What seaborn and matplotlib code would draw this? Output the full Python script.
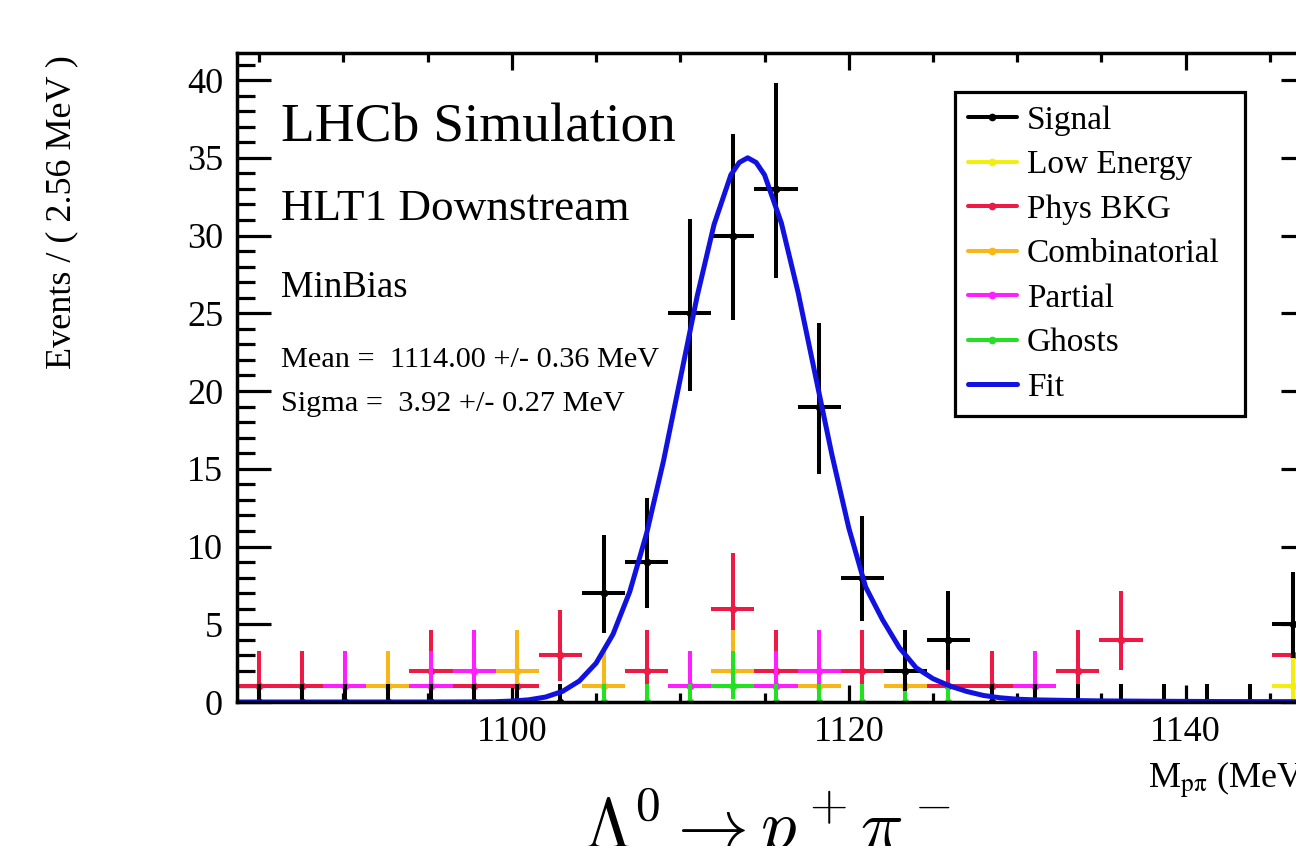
import matplotlib
matplotlib.use("Agg")
from matplotlib import pyplot as plt
from matplotlib.lines import Line2D
from matplotlib.ticker import MultipleLocator
import numpy as np
import pandas as pd
import seaborn as sns

# histogram binning (MeV)
MASS_LO = 1083.68
MASS_HI = 1147.68
BIN_WIDTH = 2.56
N_BINS = 25

# events per bin
signal = [0, 0, 0, 0, 0, 0, 0, 0, 7, 9, 25, 30, 33, 19, 8, 2, 4, 0, 0, 0, 0, 0, 0, 0, 5]
low_energy = [0, 0, 0, 0, 0, 0, 0, 0, 0, 0, 0, 0, 0, 0, 0, 0, 0, 0, 0, 0, 0, 0, 0, 0, 1]
phys_bkg = [1, 1, 0, 0, 2, 1, 1, 3, 0, 2, 0, 6, 2, 0, 2, 0, 1, 1, 0, 2, 4, 0, 0, 0, 3]
combinatorial = [0, 0, 0, 1, 0, 0, 2, 0, 1, 0, 0, 2, 0, 1, 0, 1, 0, 0, 0, 0, 0, 0, 0, 0, 0]
partial = [0, 0, 1, 0, 1, 2, 0, 0, 0, 0, 1, 0, 1, 2, 0, 0, 0, 0, 1, 0, 0, 0, 0, 0, 0]
ghosts = [0, 0, 0, 0, 0, 0, 0, 0, 0, 0, 0, 1, 0, 0, 0, 0, 0, 0, 0, 0, 0, 0, 0, 0, 0]

# empty bins whose error bar is still visible
signal_zero_bins = [0, 1, 2, 3, 4, 5, 6, 7, 17, 18, 19, 20, 21, 22, 23]
ghosts_zero_bins = [8, 9, 10, 12, 13, 14, 15, 16]

# asymmetric (Poisson) error bars per count
err_n = [0, 1, 2, 3, 4, 5, 6, 7, 8, 9, 19, 25, 30, 33]
err_lo = [0.0, 0.83, 1.29, 1.63, 1.91, 2.16, 2.38, 2.58, 2.77, 2.94, 4.33, 4.97, 5.45, 5.73]
err_hi = [1.15, 2.30, 2.64, 2.92, 3.16, 3.38, 3.58, 3.77, 3.95, 4.11, 5.40, 6.06, 6.55, 6.83]

# fitted curve
fit_x = [1083.68, 1090, 1095, 1098, 1099, 1100, 1101, 1102, 1103, 1104, 1105, 1106, 1107,
         1108, 1109, 1110, 1111, 1112, 1113, 1113.5, 1114, 1114.5, 1115, 1116, 1117, 1118,
         1119, 1120, 1121, 1122, 1123, 1124, 1125, 1126, 1127, 1128, 1129, 1130, 1131,
         1133, 1135, 1138, 1142, 1147.68]
fit_y = [0.0, 0.0, 0.0, 0.01, 0.02, 0.06, 0.14, 0.32, 0.68, 1.35, 2.5, 4.35, 7.1,
         10.85, 15.5, 20.8, 26.1, 30.7, 33.9, 34.7, 35.0, 34.7, 33.9, 30.8, 26.3, 21.1,
         15.9, 11.2, 7.4, 5.3, 3.5, 2.2, 1.5, 1.03, 0.68, 0.42, 0.27, 0.18, 0.14,
         0.1, 0.07, 0.05, 0.03, 0.02]

labels = ["Signal", "Low Energy", "Phys BKG", "Combinatorial", "Partial", "Ghosts", "Fit"]
colors = ["black", "#F2EE10", "#EC1A45", "#F7B718", "#FF1EFF", "#22E022", "#1212E0"]

bin_centers = MASS_LO + BIN_WIDTH * (np.arange(N_BINS) + 0.5)
lo_map = dict(zip(err_n, err_lo))
hi_map = dict(zip(err_n, err_hi))

LW = 2.9
FIT_LW = 3.6


def draw_series(ax, counts, color, z, zero_bins=()):
    counts = np.asarray(counts)
    idx = np.nonzero(counts)[0]
    lo = [lo_map[c] for c in counts[idx]]
    hi = [hi_map[c] for c in counts[idx]]
    ax.errorbar(bin_centers[idx], counts[idx], xerr=BIN_WIDTH / 2, yerr=[lo, hi],
                fmt="o", ms=4.5, color=color, elinewidth=LW, capsize=0, zorder=z)
    if len(zero_bins):
        zb = np.asarray(zero_bins)
        ax.errorbar(bin_centers[zb], np.zeros(len(zb)),
                    yerr=[np.zeros(len(zb)), np.full(len(zb), hi_map[0])],
                    fmt="o", ms=4.5, color=color, elinewidth=LW, capsize=0, zorder=z)


sns.set_theme(style="ticks")
plt.rcParams["font.family"] = ["Liberation Serif", "DejaVu Serif"]
plt.rcParams["text.color"] = "black"
plt.rcParams["axes.labelcolor"] = "black"
plt.rcParams["xtick.color"] = "black"
plt.rcParams["ytick.color"] = "black"

fig = plt.figure(figsize=(12.96, 8.46), dpi=100)
ax = fig.add_axes([237 / 1296, 144 / 846, 1078 / 1296, 649 / 846])

draw_series(ax, phys_bkg, colors[2], 3)
draw_series(ax, low_energy, colors[1], 3.5)
draw_series(ax, combinatorial, colors[3], 4)
draw_series(ax, partial, colors[4], 4.5)
draw_series(ax, ghosts, colors[5], 5, ghosts_zero_bins)
draw_series(ax, signal, colors[0], 6, signal_zero_bins)

fit_df = pd.DataFrame({"mass": fit_x, "events": fit_y})
sns.lineplot(data=fit_df, x="mass", y="events", ax=ax, color=colors[6], lw=FIT_LW,
             estimator=None, sort=True, zorder=7)

ax.set_xlim(MASS_LO, MASS_HI)
ax.set_ylim(0, 41.74)
ax.xaxis.set_major_locator(MultipleLocator(20))
ax.xaxis.set_minor_locator(MultipleLocator(5))
ax.yaxis.set_major_locator(MultipleLocator(5))
ax.yaxis.set_minor_locator(MultipleLocator(1))
ax.tick_params(axis="both", which="both", direction="in", top=True, right=True,
               width=2.3, colors="black", labelsize=26, pad=10)
ax.tick_params(axis="x", which="major", length=12.5)
ax.tick_params(axis="x", which="minor", length=6.5)
ax.tick_params(axis="y", which="major", length=24.5)
ax.tick_params(axis="y", which="minor", length=13)
for sp in ax.spines.values():
    sp.set_linewidth(2.5)
    sp.set_color("black")
    sp.set_zorder(10)

ax.set_xlabel(r"M$_{\mathrm{p\pi}}$ (MeV)", loc="right", fontsize=26, labelpad=8,
              math_fontfamily="stix")
ax.set_ylabel("")
fig.text(62 / 1296, 1 - 55 / 846, "Events / ( 2.56 MeV )", rotation=90, ha="center",
         va="top", fontsize=26)

# labels inside the frame
fig.text(281 / 1296, 1 - 142 / 846, "LHCb Simulation", fontsize=39.8, va="baseline")
fig.text(281 / 1296, 1 - 220 / 846, "HLT1 Downstream", fontsize=32.5, va="baseline")
fig.text(281 / 1296, 1 - 297 / 846, "MinBias", fontsize=26.5, va="baseline")
fig.text(281 / 1296, 1 - 367 / 846, "Mean =  1114.00 +/- 0.36 MeV", fontsize=21.8, va="baseline")
fig.text(281 / 1296, 1 - 411 / 846, "Sigma =  3.92 +/- 0.27 MeV", fontsize=21.8, va="baseline")

handles = []
for lab, col in zip(labels, colors):
    if lab == "Fit":
        handles.append(Line2D([0], [0], color=col, lw=FIT_LW))
    else:
        handles.append(Line2D([0], [0], color=col, lw=LW, marker="o", ms=4.5))
leg = ax.legend(handles, labels, loc="upper left",
                bbox_to_anchor=(0.666, 0.445, 0.269, 0.495), mode="expand",
                borderaxespad=0, fontsize=24, frameon=True, fancybox=False,
                framealpha=1, edgecolor="black", handlelength=1.45, handletextpad=0.3,
                labelspacing=0.42, borderpad=0.4)
leg.get_frame().set_linewidth(2.3)
leg.set_zorder(20)

# decay title, partly below the bottom edge as in the source image
fig.text(767 / 1296, -0.003, r"$\Lambda^0 \rightarrow p^+\pi^-$", fontsize=51,
         ha="center", va="baseline", math_fontfamily="cm")

fig.savefig("out.png", dpi=100)
